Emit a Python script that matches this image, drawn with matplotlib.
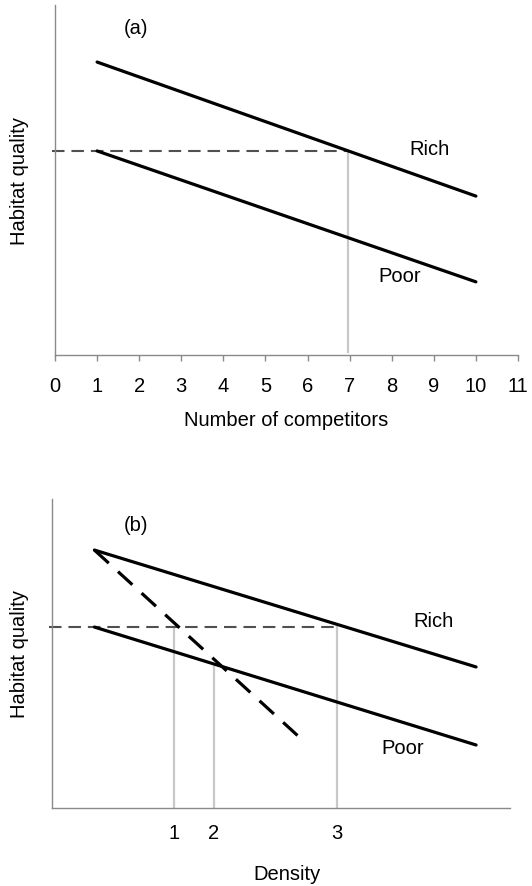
import numpy as np
import matplotlib.pyplot as plt

plt.rcParams["font.family"] = ["Liberation Sans", "DejaVu Sans"]
plt.rcParams["font.size"] = 14.5
plt.rcParams["lines.scale_dashes"] = False

# panel (a): habitat quality vs number of competitors
competitors = [1, 10]
rich_a = [8.37, 4.54]
poor_a = [5.83, 2.09]
threshold_a = 5.83
settle_a = 6.95
ticks_a = list(range(0, 12))

# panel (b): habitat quality vs density
density = [1, 10]
rich_b = [7.37, 4.03]
poor_b = [5.17, 1.80]
steep_x = [1, 5.8]
steep_y = [7.37, 2.06]
threshold_b = 5.17
density_marks = [2.88, 3.82, 6.72]
mark_labels = ["1", "2", "3"]

W, H = 532, 887
fig = plt.figure(figsize=(W / 100, H / 100), dpi=100)

spine_col = "#8a8a8a"
guide_col = "#c8c8c8"
dash_col = "#505050"
fs = 14.5


def px_axes(left, right, top, bottom):
    return fig.add_axes([left / W, 1 - bottom / H, (right - left) / W, (bottom - top) / H])


def style(ax):
    for s in ["top", "right"]:
        ax.spines[s].set_visible(False)
    for s in ["left", "bottom"]:
        ax.spines[s].set_color(spine_col)
        ax.spines[s].set_linewidth(1.0)
    ax.set_yticks([])


# ---- (a)
ax1 = px_axes(55, 518, 6, 356)
style(ax1)
ax1.set_xlim(0, 11)
ax1.set_ylim(0, 10)
ax1.set_xticks(ticks_a)
ax1.set_xticklabels([str(t) for t in ticks_a])
ax1.tick_params(axis="x", direction="out", length=4.5, width=1.0, color=spine_col, pad=10.5, labelsize=fs)

ax1.plot([settle_a, settle_a], [0.1, threshold_a], color=guide_col, lw=1.6, zorder=1)
ax1.plot([-0.06, settle_a], [threshold_a, threshold_a], color=dash_col, lw=1.5,
         dashes=(9, 5), zorder=2, clip_on=False)
ax1.plot(competitors, rich_a, color="black", lw=2.3, solid_capstyle="round", zorder=3)
ax1.plot(competitors, poor_a, color="black", lw=2.3, solid_capstyle="round", zorder=3)

ax1.text(1.92, 9.37, "(a)", ha="center", va="center", fontsize=fs)
ax1.text(8.9, 5.9, "Rich", ha="center", va="center", fontsize=fs)
ax1.text(8.2, 2.26, "Poor", ha="center", va="center", fontsize=fs)

ax1.set_xlabel("Number of competitors", fontsize=fs)
ax1.xaxis.label.set_va("center")
ax1.xaxis.set_label_coords(0.5, -(420 - 356) / 350)
ax1.set_ylabel("Habitat quality", fontsize=fs)
ax1.yaxis.label.set_va("center")
ax1.yaxis.set_label_coords((20 - 55) / 463, 0.5)

# ---- (b)
ax2 = px_axes(52, 510, 500, 809)
style(ax2)
ax2.set_xlim(0, 10.8)
ax2.set_ylim(0, 309 / 35)
ax2.set_xticks(density_marks)
ax2.set_xticklabels(mark_labels)
ax2.tick_params(axis="x", length=0, pad=10.5, labelsize=fs)

tops = [threshold_b, np.interp(density_marks[1], density, poor_b), threshold_b]
for xm, yt in zip(density_marks, tops):
    ax2.plot([xm, xm], [0, yt], color=guide_col, lw=1.6, zorder=1)
ax2.plot([-0.07, density_marks[2]], [threshold_b, threshold_b], color=dash_col, lw=1.5,
         dashes=(9, 5), zorder=2, clip_on=False)
ax2.plot(steep_x, steep_y, color="black", lw=2.3, dashes=(14, 9), zorder=3)
ax2.plot(density, rich_b, color="black", lw=2.3, solid_capstyle="round", zorder=3)
ax2.plot(density, poor_b, color="black", lw=2.3, solid_capstyle="round", zorder=3)

ax2.text(1.98, 8.11, "(b)", ha="center", va="center", fontsize=fs)
ax2.text(8.99, 5.37, "Rich", ha="center", va="center", fontsize=fs)
ax2.text(8.28, 1.74, "Poor", ha="center", va="center", fontsize=fs)

ax2.set_xlabel("Density", fontsize=fs)
ax2.xaxis.label.set_va("center")
ax2.xaxis.set_label_coords((287 - 52) / 458, -(875 - 809) / 309)
ax2.set_ylabel("Habitat quality", fontsize=fs)
ax2.yaxis.label.set_va("center")
ax2.yaxis.set_label_coords((20 - 52) / 458, 0.5)

fig.savefig("out.png", dpi=100)
